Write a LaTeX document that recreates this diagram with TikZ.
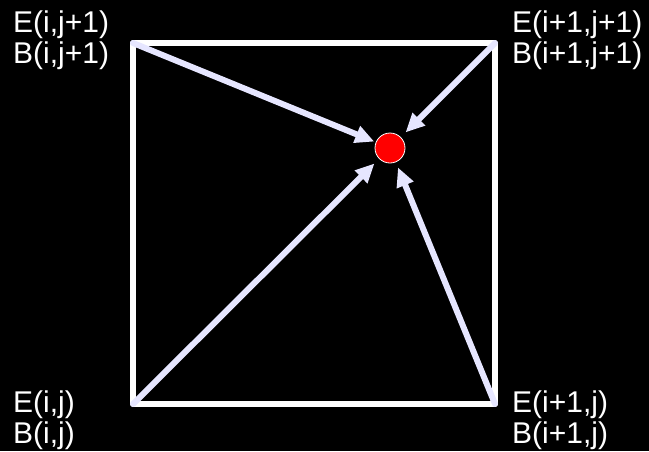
\documentclass[tikz,border=0pt]{standalone}
\usepackage{fontspec}
\setmainfont{Liberation Sans}
\usetikzlibrary{arrows.meta}
\begin{document}
\begin{tikzpicture}[x=1pt,y=-1pt,
  lbl/.style={anchor=base west,inner sep=0pt,text=white,font=\fontsize{30}{31}\selectfont,align=left},
  edge/.style={draw=white,line width=5.5pt,line join=round,line cap=round},
  arr/.style={draw=arrowc,line width=6pt,line cap=round,-{Triangle[length=19pt,width=17pt]}}]
\definecolor{arrowc}{HTML}{E6E6FF}
\fill[black] (0,0) rectangle (649,451);
\useasboundingbox (0,0) rectangle (649,451);
\coordinate (tl) at (133,43);
\coordinate (tr) at (495,43);
\coordinate (bl) at (133,404);
\coordinate (br) at (495,404);
\draw[edge] (tl) -- (tr) -- (br) -- (bl) -- cycle;
\node[circle,fill=red,draw=white,line width=0.8pt,minimum size=30pt,inner sep=0pt,outer sep=0pt] (c) at (390,148) {};
\draw[arr,shorten >=17pt] (tl) -- (c.center);
\draw[arr,shorten >=22pt] (tr) -- (c.center);
\draw[arr,shorten >=22pt] (bl) -- (c.center);
\draw[arr,shorten >=21pt] (br) -- (c.center);
\node[lbl] (ltl) at (13,63) {E(i,j+1)\\B(i,j+1)};
\node[lbl] (ltr) at (512,63) {E(i+1,j+1)\\B(i+1,j+1)};
\node[lbl] (lbl) at (13,443) {E(i,j)\\B(i,j)};
\node[lbl] (lbr) at (512,443) {E(i+1,j)\\B(i+1,j)};
\end{tikzpicture}
\end{document}
